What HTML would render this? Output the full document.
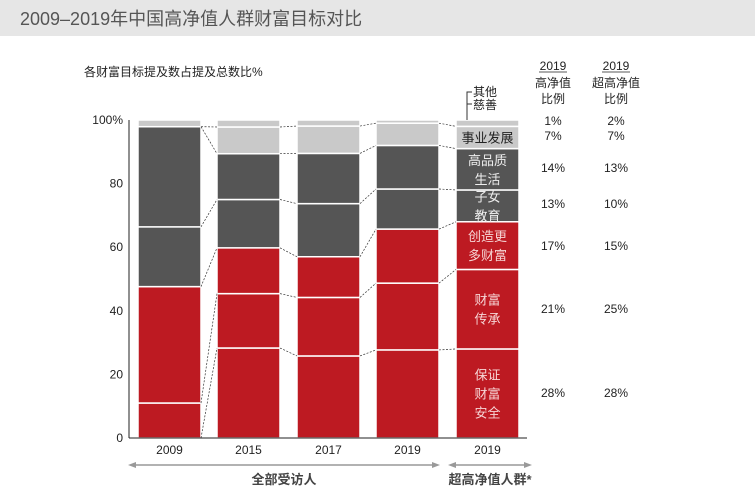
<!DOCTYPE html>
<html><head><meta charset="utf-8">
<style>
html,body{margin:0;padding:0;background:#fff;}
svg{display:block;font-family:"Liberation Sans","Noto Sans CJK SC",sans-serif;}
</style></head>
<body>
<svg id="chart" width="755" height="497" viewBox="0 0 755 497">
<rect x="0" y="0" width="755" height="36" fill="#e6e6e6"/>
<text x="20" y="25" font-size="18" fill="#555">2009–2019年中国高净值人群财富目标对比</text>
<text x="84" y="76" font-size="12" fill="#222">各财富目标提及数占提及总数比%</text>
<g id="plot"></g>
</svg>
<script>
const categories = ['2009','2015','2017','2019','2019'];
const series = ['保证财富安全','财富传承','创造更多财富','子女教育','高品质生活','事业发展','其他慈善'];
const s0 = [0, 28.3, 25.8, 27.7, 28];
const s1 = [11, 17.1, 18.4, 21, 25];
const s2 = [36.6, 14.4, 12.8, 17, 15];
const s3 = [18.8, 15.2, 16.7, 12.6, 10];
const s4 = [31.5, 14.4, 15.8, 13.7, 13];
const s5 = [0, 8.4, 8.6, 7, 7];
const s6 = [2.1, 2.2, 1.9, 1, 2];
const yTicks = [0,20,40,60,80,100];
const tableRowLabels = ['其他慈善','事业发展','高品质生活','子女教育','创造更多财富','财富传承','保证财富安全'];
const hnwPct = ['1%','7%','14%','13%','17%','21%','28%'];
const uhnwPct = ['2%','7%','13%','10%','15%','25%','28%'];

const NS='http://www.w3.org/2000/svg';
const g=document.getElementById('plot');
function mk(tag,attrs,parent){const e=document.createElementNS(NS,tag);for(const k in attrs)e.setAttribute(k,attrs[k]);(parent||g).appendChild(e);return e;}
const y0=438, yTop=120;
function y(v){return y0-(v/100)*(y0-yTop);}
const barX=[138,217,297,376,456], barW=63;
function x(i){return barX[i];}
const colors=['#bd1a22','#bd1a22','#bd1a22','#555555','#555555','#c9c9c9','#c9c9c9'];
const all=[s0,s1,s2,s3,s4,s5,s6];

const tops=[];
categories.forEach((c,i)=>{
  let cum=0; const b=[0];
  all.forEach((s,k)=>{
    const v=s[i];
    if(v>0){
      const r=mk('rect',{x:x(i),y:y(cum+v),width:barW,height:y(cum)-y(cum+v),fill:colors[k],stroke:'#fff','stroke-width':1.5});
      
      
    }
    cum+=v; b.push(cum);
  });
  tops.push(b);
});
for(let i=0;i<categories.length-1;i++){
  for(let k=0;k<tops[i].length;k++){
    if(k===tops[i].length-1) continue;
    const l=mk('line',{x1:x(i)+barW,y1:y(tops[i][k]),x2:x(i+1),y2:y(tops[i+1][k]),stroke:'#333','stroke-width':0.7,'stroke-dasharray':'2,1.5'});
    
    
  }
}
let a=mk('line',{x1:129,y1:120,x2:129,y2:y0,stroke:'#222','stroke-width':1});


a=mk('line',{x1:129,y1:y0,x2:527,y2:y0,stroke:'#222','stroke-width':1});


yTicks.forEach(t=>{
  const e=mk('text',{x:123,y:y(t)+4,'font-size':12,'text-anchor':'end',fill:'#222'});
  e.textContent=t===100?'100%':t;
  
  
});
categories.forEach((c,i)=>{
  const e=mk('text',{x:x(i)+barW/2,y:454,'font-size':12,'text-anchor':'middle',fill:'#222'});
  e.textContent=c;
  
  
});
function arrow(x1,x2,name,label,tx){
  const gg=mk('g',{});
  
  
  mk('line',{x1:x1+5,y1:465,x2:x2-5,y2:465,stroke:'#999','stroke-width':1.5},gg);
  mk('path',{d:`M${x1},465 l8,-3 v6 z M${x2},465 l-8,-3 v6 z`,fill:'#999'},gg);
  const t=mk('text',{x:tx,y:484,'font-size':13,'font-weight':'bold','text-anchor':'middle',fill:'#444'},gg);
  t.textContent=label;
}
arrow(128,440,'all-respondents-bracket','全部受访人',284);
arrow(448,532,'uhnw-bracket','超高净值人群*',490);
const inLabels=[['保证','财富','安全'],['财富','传承'],['创造更','多财富'],['子女','教育'],['高品质','生活'],['事业发展']];
const li=4; let cum=0;
inLabels.forEach((lines,k)=>{
  const v=all[k][li]; const mid=y(cum+v/2); cum+=v;
  const col=k===5?'#222':(k<3?'#f6d5d5':'#eee');
  lines.forEach((ln,j)=>{
    const t=mk('text',{x:x(li)+barW/2,y:mid+(j-(lines.length-1)/2)*19+5,'font-size':13,'text-anchor':'middle',fill:col});
    t.textContent=ln;
    
    
  });
});
mk('path',{d:'M467,120 V92 H472 M467,104 H472',stroke:'#333',fill:'none','stroke-width':1});
[['其他',96],['慈善',109]].forEach(([s,yy])=>{
  const t=mk('text',{x:473,y:yy,'font-size':12,fill:'#222'});t.textContent=s;
  
  
});
[[553,'高净值'],[616,'超高净值']].forEach(([cx,h])=>{
  let t=mk('text',{x:cx,y:70,'font-size':12,'text-anchor':'middle',fill:'#222'});t.textContent='2019';
  
  
  mk('line',{x1:cx-14,y1:72,x2:cx+14,y2:72,stroke:'#222','stroke-width':0.8});
  t=mk('text',{x:cx,y:87,'font-size':12,'text-anchor':'middle',fill:'#222'});t.textContent=h;
  
  
  t=mk('text',{x:cx,y:103,'font-size':12,'text-anchor':'middle',fill:'#222'});t.textContent='比例';
  
  
});
const rowY=[125,140,172,208,250,313,397];
tableRowLabels.forEach((r,i)=>{
  let t=mk('text',{x:553,y:rowY[i],'font-size':12,'text-anchor':'middle',fill:'#222'});t.textContent=hnwPct[i];
  
  
  t=mk('text',{x:616,y:rowY[i],'font-size':12,'text-anchor':'middle',fill:'#222'});t.textContent=uhnwPct[i];
  
  
});
</script>
</body></html>
